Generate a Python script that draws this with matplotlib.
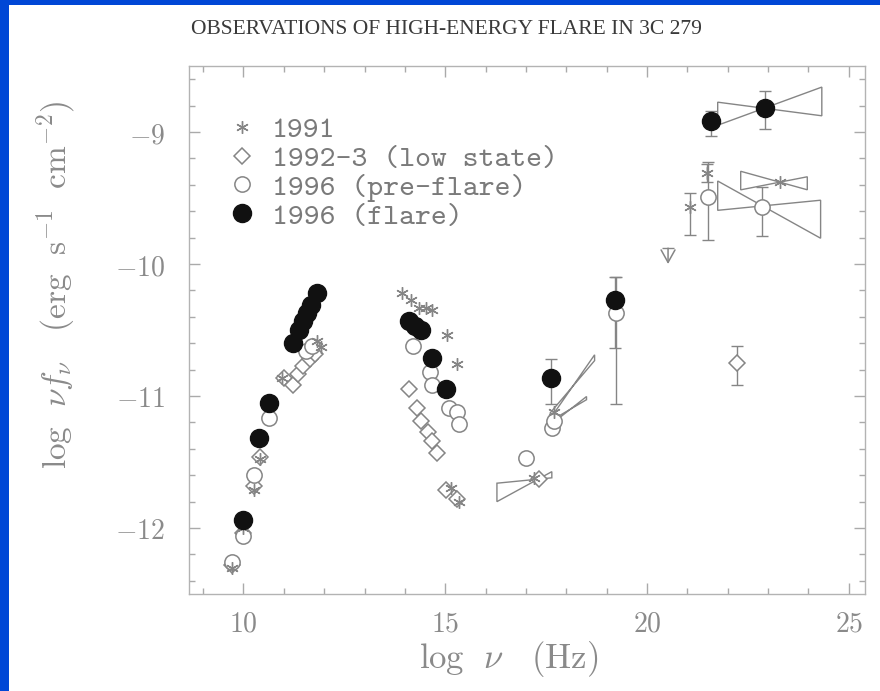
import matplotlib
matplotlib.use('Agg')
import matplotlib.pyplot as plt
import numpy as np
from matplotlib.lines import Line2D
from matplotlib.patches import Polygon, Rectangle
from matplotlib.ticker import MultipleLocator, FuncFormatter

plt.rcParams['mathtext.fontset'] = 'cm'

# --- 1991 (asterisks) ---
y91_x = [9.72, 10.0, 10.25, 10.42, 10.95, 11.82, 11.92,
         13.92, 14.16, 14.36, 14.53, 14.68, 15.05, 15.3,
         15.15, 15.34, 17.2, 17.7, 23.29]
y91_y = [-12.30, -12.00, -11.71, -11.48, -10.86, -10.58, -10.63,
         -10.22, -10.27, -10.33, -10.33, -10.35, -10.54, -10.76,
         -11.70, -11.80, -11.62, -11.12, -9.38]
y91_err_x = [21.06, 21.48]
y91_err_y = [-9.57, -9.31]
y91_err_lo = [0.21, 0.07]
y91_err_hi = [0.11, 0.07]

# --- 1992-3 low state (open diamonds) ---
low_x = [9.72, 10.0, 10.25, 10.42, 11.0, 11.23, 11.35, 11.48, 11.65, 11.78,
         14.11, 14.29, 14.41, 14.56, 14.68, 14.8, 15.02, 15.3, 17.32]
low_y = [-12.28, -12.04, -11.68, -11.46, -10.86, -10.92, -10.83, -10.77, -10.72, -10.68,
         -10.95, -11.09, -11.19, -11.27, -11.34, -11.43, -11.71, -11.78, -11.63]
low_err_x = [22.24]
low_err_y = [-10.75]
low_err_lo = [0.17]
low_err_hi = [0.13]

# --- 1996 pre-flare (open circles) ---
pre_x = [9.72, 10.0, 10.25, 10.64, 11.55, 11.7,
         14.19, 14.61, 14.68, 15.1, 15.3, 15.34,
         16.99, 17.64, 17.7]
pre_y = [-12.26, -12.06, -11.60, -11.17, -10.66, -10.62,
         -10.62, -10.82, -10.92, -11.09, -11.12, -11.21,
         -11.47, -11.24, -11.19]
pre_err_x = [19.23, 21.5, 22.86]
pre_err_y = [-10.37, -9.49, -9.57]
pre_err_lo = [0.69, 0.33, 0.22]
pre_err_hi = [0.27, 0.26, 0.15]

# --- 1996 flare (filled circles) ---
flare_x = [10.0, 10.39, 10.64, 11.23, 11.38, 11.48, 11.58, 11.67, 11.82,
           14.11, 14.24, 14.41, 14.66, 15.02]
flare_y = [-11.94, -11.32, -11.05, -10.60, -10.50, -10.43, -10.37, -10.31, -10.22,
           -10.43, -10.47, -10.50, -10.71, -10.95]
flare_err_x = [17.61, 19.21, 21.58, 22.91]
flare_err_y = [-10.86, -10.27, -8.92, -8.82]
flare_err_lo = [0.20, 0.37, 0.11, 0.16]
flare_err_hi = [0.14, 0.17, 0.08, 0.13]

# upper limit
ul_x = [20.52]
ul_y = [-9.88]

# power-law "bowties": x range, pivot, and the two bounding slopes
bow_xlo = [16.28, 17.60, 17.70, 21.75, 21.75, 22.32]
bow_xhi = [17.64, 18.70, 18.50, 24.33, 24.30, 23.97]
bow_px = [17.30, 18.15, 18.10, 22.90, 22.86, 23.29]
bow_py = [-11.63, -10.93, -11.10, -8.82, -9.56, -9.38]
bow_s1 = [0.03, 0.36, 0.18, -0.04, -0.17, -0.085]
bow_s2 = [0.167, 0.44, 0.24, 0.112, 0.03, 0.06]

xticks = [10, 15, 20, 25]
yticks = [-12, -11, -10, -9]

BLACK = '#111111'
GREY = '#858585'
TEXT = '#8a8a8a'

fig = plt.figure(figsize=(8.8, 6.91), dpi=100)
fig.patch.set_facecolor('#0047d6')
fig.patches.append(Rectangle((9 / 880, 0), 1, 1 - 5 / 691, transform=fig.transFigure,
                             facecolor='white', edgecolor='none', zorder=-10))

ax = fig.add_axes([189 / 880, 1 - 594 / 691, 676 / 880, 528 / 691])
ax.set_xlim(8.65, 25.4)
ax.set_ylim(-12.5, -8.5)

open_kw = dict(linestyle='none', markerfacecolor='white', markeredgecolor=GREY,
               markeredgewidth=1.1)
star_marker = (6, 2, 0)

# bowties
for xlo, xhi, px, py, s1, s2 in zip(bow_xlo, bow_xhi, bow_px, bow_py, bow_s1, bow_s2):
    left = [py + s1 * (xlo - px), py + s2 * (xlo - px)]
    right = [py + s1 * (xhi - px), py + s2 * (xhi - px)]
    verts = [(xlo, left[0]), (px, py), (xhi, right[0]), (xhi, right[1]),
             (px, py), (xlo, left[1])]
    ax.add_patch(Polygon(verts, closed=True, fill=False, edgecolor=GREY, linewidth=1.0,
                         zorder=2))

# error bars
err_kw = dict(fmt='none', ecolor=GREY, elinewidth=1.0, capsize=4, capthick=1.0, zorder=2)
ax.errorbar(y91_err_x, y91_err_y, yerr=[y91_err_lo, y91_err_hi], **err_kw)
ax.errorbar(low_err_x, low_err_y, yerr=[low_err_lo, low_err_hi], **err_kw)
ax.errorbar(pre_err_x, pre_err_y, yerr=[pre_err_lo, pre_err_hi], **err_kw)
ax.errorbar(flare_err_x, flare_err_y, yerr=[flare_err_lo, flare_err_hi], **err_kw)

# upper limit: bar with a downward arrow
ax.plot(ul_x, ul_y, marker='_', ms=9, color=GREY, mew=1.0, linestyle='none')
for x, y in zip(ul_x, ul_y):
    ax.annotate('', xy=(x, y - 0.12), xytext=(x, y),
                arrowprops=dict(arrowstyle='->,head_length=0.9,head_width=0.5',
                                color=GREY, lw=1.1, shrinkA=0, shrinkB=0))

# data points
ax.plot(low_x, low_y, marker='D', ms=8, zorder=3, **open_kw)
ax.plot(low_err_x, low_err_y, marker='D', ms=8, zorder=3, **open_kw)
ax.plot(pre_x, pre_y, marker='o', ms=11, zorder=3, **open_kw)
ax.plot(pre_err_x, pre_err_y, marker='o', ms=11, zorder=3, **open_kw)
ax.plot(y91_x, y91_y, marker=star_marker, ms=9, color=GREY, mew=1.0,
        linestyle='none', zorder=4)
ax.plot(y91_err_x, y91_err_y, marker=star_marker, ms=9, color=GREY, mew=1.0,
        linestyle='none', zorder=4)
ax.plot(flare_x, flare_y, marker='o', ms=13, color=BLACK, linestyle='none', zorder=5)
ax.plot(flare_err_x, flare_err_y, marker='o', ms=13, color=BLACK, linestyle='none',
        zorder=5)

# axes styling
for sp in ax.spines.values():
    sp.set_color('#b3b3b3')
    sp.set_linewidth(1.0)
ax.set_xticks(xticks)
ax.set_yticks(yticks)
ax.xaxis.set_minor_locator(MultipleLocator(1))
ax.yaxis.set_minor_locator(MultipleLocator(0.2))
ax.tick_params(which='both', direction='in', top=True, right=True, color='#aaaaaa',
               width=1.0, labelcolor=TEXT)
ax.tick_params(which='major', length=8)
ax.tick_params(which='minor', length=4)
ax.tick_params(axis='x', pad=11, labelsize=20)
ax.tick_params(axis='y', pad=17, labelsize=20)
fmt = FuncFormatter(lambda v, _: rf"$\mathrm{{{v:.0f}}}$")
ax.xaxis.set_major_formatter(fmt)
ax.yaxis.set_major_formatter(fmt)

ax.set_xlabel(r"$\mathrm{log}\ \ \nu\quad(\mathrm{Hz})$", fontsize=25, color=TEXT)
ax.xaxis.set_label_coords(0.473, -0.085)
ax.set_ylabel(r"$\mathrm{log}\ \ \nu f_\nu\quad(\mathrm{erg\ \ s^{-1}\ \ cm^{-2}})$",
              fontsize=24, color=TEXT)
ax.yaxis.set_label_coords(-0.165, 0.585)

fig.text(446 / 880, 1 - 30 / 691, "OBSERVATIONS OF HIGH-ENERGY FLARE IN 3C 279",
         ha='center', va='center', fontsize=15.5, family='Liberation Serif',
         color='#3a3a3a')

handles = [
    Line2D([], [], marker=star_marker, ms=9, color=GREY, mew=1.0, linestyle='none'),
    Line2D([], [], marker='D', ms=8, **open_kw),
    Line2D([], [], marker='o', ms=11, **open_kw),
    Line2D([], [], marker='o', ms=13, color=BLACK, linestyle='none'),
]
labels = ['1991', '1992-3 (low state)', '1996 (pre-flare)', '1996 (flare)']
leg = ax.legend(handles, labels, loc='upper left', bbox_to_anchor=(0.056, 0.905),
                frameon=False, handlelength=1.0, handletextpad=0.5, labelspacing=0.02,
                borderpad=0, borderaxespad=0,
                prop={'family': 'cmtt10', 'size': 21.8})
for t in leg.get_texts():
    t.set_color('#7a7a7a')

fig.savefig('out.png', dpi=100)
